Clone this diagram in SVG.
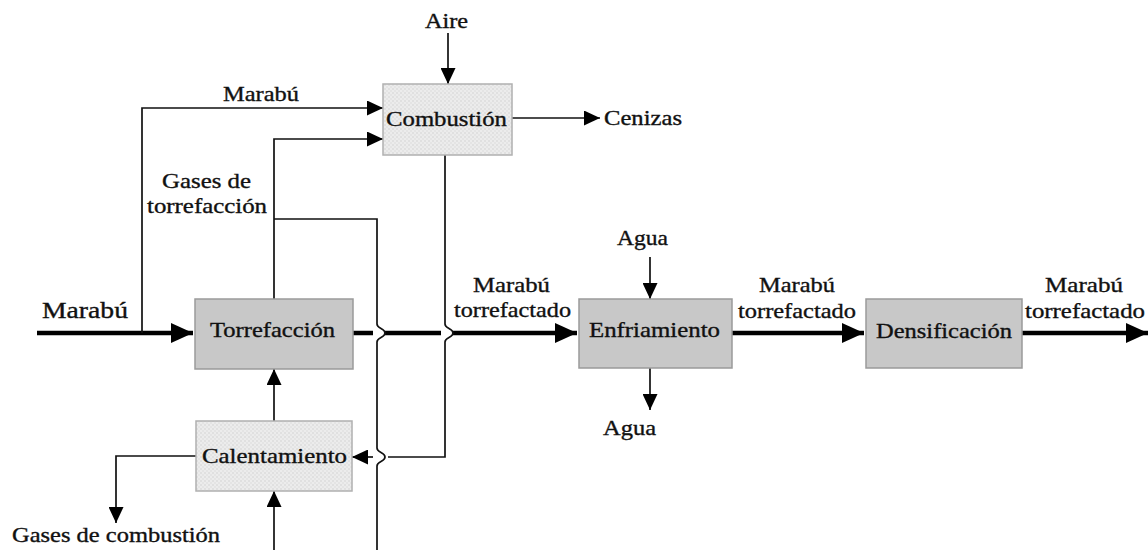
<svg xmlns="http://www.w3.org/2000/svg" width="1148" height="550" viewBox="0 0 1148 550">
  <defs>
    <pattern id="dots" width="4" height="4" patternUnits="userSpaceOnUse">
      <rect width="4" height="4" fill="#ececec"/>
      <circle cx="1" cy="1" r="0.8" fill="#d2d2d2"/>
      <circle cx="3" cy="3" r="0.8" fill="#dadada"/>
    </pattern>
    <marker id="a" markerUnits="userSpaceOnUse" markerWidth="16" markerHeight="15" refX="16" refY="7.5" orient="auto">
      <path d="M0,0 L16,7.5 L0,15 z" fill="#000"/>
    </marker>
    <marker id="A" markerUnits="userSpaceOnUse" markerWidth="22" markerHeight="20" refX="22" refY="10" orient="auto">
      <path d="M0,0 L22,10 L0,20 z" fill="#000"/>
    </marker>
  </defs>
  <style>
    text { font-family: "Liberation Serif", "Times New Roman", serif; font-size: 21px; fill: #111; stroke: #111; stroke-width: 0.35; }
    .dark { fill: #c8c8c8; stroke: #9a9a9a; stroke-width: 1.5; }
    .light { fill: url(#dots); stroke: #b0b0b0; stroke-width: 1.5; }
    .thin { fill: none; stroke: #111; stroke-width: 1.7; }
    .thick { fill: none; stroke: #000; stroke-width: 4.5; }
  </style>

  <g id="connectors">
    <path class="thick" d="M37,333 H193" marker-end="url(#A)"/>
    <path class="thick" d="M353,333 H373"/>
    <path class="thick" d="M385,333 H441"/>
    <path class="thick" d="M453,333 H577" marker-end="url(#A)"/>
    <path class="thick" d="M732,333 H864" marker-end="url(#A)"/>
    <path class="thick" d="M1022,333 H1148" marker-end="url(#A)"/>
    <path class="thin" d="M142,333 V108 H383" marker-end="url(#a)"/>
    <path class="thin" d="M274,299 V139 H383" marker-end="url(#a)"/>
    <path class="thin" d="M274,219 H377 V324 C377,329 385,328 385,333 C385,338 377,337 377,342 V448 C377,453 385,452 385,457 C385,462 377,461 377,466 V550"/>
    <path class="thin" d="M445,155 V324 C445,329 453,328 453,333 C453,338 445,337 445,342 V457 H388"/>
    <path class="thin" d="M373,457 H352" marker-end="url(#a)"/>
    <path class="thin" d="M448,33 V84" marker-end="url(#a)"/>
    <path class="thin" d="M512,118 H600" marker-end="url(#a)"/>
    <path class="thin" d="M274,421 V369" marker-end="url(#a)"/>
    <path class="thin" d="M274,550 V491" marker-end="url(#a)"/>
    <path class="thin" d="M196,456 H116 V523" marker-end="url(#a)"/>
    <path class="thin" d="M650,257 V299" marker-end="url(#a)"/>
    <path class="thin" d="M650,368 V410" marker-end="url(#a)"/>
  </g>

  <g id="combustion">
    <rect class="light" x="383" y="84" width="129" height="71"/>
    <text x="386" y="126" textLength="121" lengthAdjust="spacingAndGlyphs">Combustión</text>
  </g>
  <g id="torrefaccion">
    <rect class="dark" x="195" y="299" width="158" height="70"/>
    <text x="210" y="337" textLength="125" lengthAdjust="spacingAndGlyphs">Torrefacción</text>
  </g>
  <g id="calentamiento">
    <rect class="light" x="196" y="421" width="156" height="70"/>
    <text x="202" y="463" textLength="145" lengthAdjust="spacingAndGlyphs">Calentamiento</text>
  </g>
  <g id="enfriamiento">
    <rect class="dark" x="579" y="299" width="153" height="69"/>
    <text x="589" y="337" textLength="131" lengthAdjust="spacingAndGlyphs">Enfriamiento</text>
  </g>
  <g id="densificacion">
    <rect class="dark" x="866" y="299" width="156" height="69"/>
    <text x="876" y="338" textLength="136" lengthAdjust="spacingAndGlyphs">Densificación</text>
  </g>

  <g id="labels">
    <text x="425" y="28" textLength="43" lengthAdjust="spacingAndGlyphs">Aire</text>
    <text x="604" y="125" textLength="78" lengthAdjust="spacingAndGlyphs">Cenizas</text>
    <text x="223" y="101" textLength="76" lengthAdjust="spacingAndGlyphs">Marabú</text>
    <text x="162" y="188" textLength="89" lengthAdjust="spacingAndGlyphs">Gases de</text>
    <text x="147" y="213" textLength="120" lengthAdjust="spacingAndGlyphs">torrefacción</text>
    <text x="42" y="318" style="font-size:23px" textLength="86" lengthAdjust="spacingAndGlyphs">Marabú</text>
    <text x="12" y="542" textLength="208" lengthAdjust="spacingAndGlyphs">Gases de combustión</text>
    <text x="473" y="292" textLength="77" lengthAdjust="spacingAndGlyphs">Marabú</text>
    <text x="454" y="317" textLength="117" lengthAdjust="spacingAndGlyphs">torrefactado</text>
    <text x="617" y="245" textLength="51" lengthAdjust="spacingAndGlyphs">Agua</text>
    <text x="603" y="435" textLength="53" lengthAdjust="spacingAndGlyphs">Agua</text>
    <text x="759" y="292" textLength="76" lengthAdjust="spacingAndGlyphs">Marabú</text>
    <text x="738" y="318" textLength="118" lengthAdjust="spacingAndGlyphs">torrefactado</text>
    <text x="1045" y="292" textLength="78" lengthAdjust="spacingAndGlyphs">Marabú</text>
    <text x="1025" y="318" textLength="120" lengthAdjust="spacingAndGlyphs">torrefactado</text>
  </g>
</svg>
